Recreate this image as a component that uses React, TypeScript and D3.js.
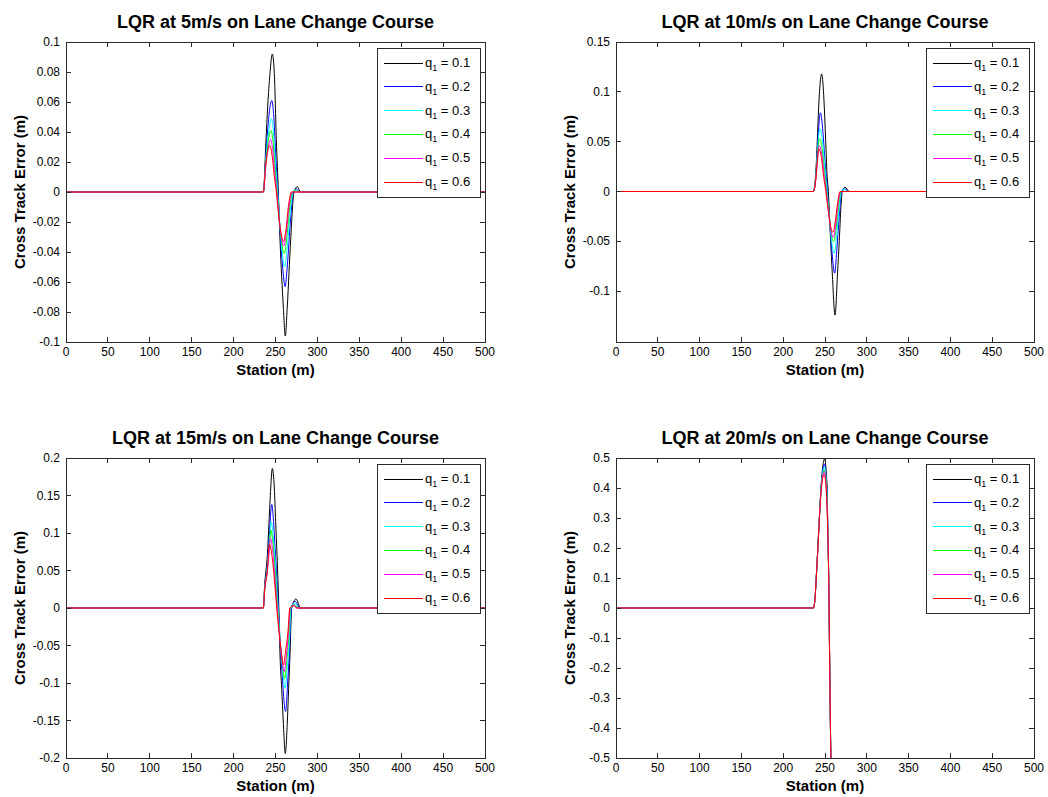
import React from 'react';
import * as d3 from 'd3';

type Pt = [number, number];

// ---------- shared ----------
const Q_LABELS = ['0.1', '0.2', '0.3', '0.4', '0.5', '0.6'];
const SERIES_COLORS = ['#000000', '#0000ff', '#00ffff', '#00ff00', '#ff00ff', '#ff0000'];
const X_TICKS = [0, 50, 100, 150, 200, 250, 300, 350, 400, 450, 500];
const X_DOMAIN: [number, number] = [0, 500];
const X_LABEL = 'Station (m)';
const Y_LABEL = 'Cross Track Error (m)';

// ---------- panel 1 : 5 m/s ----------
const P1_TITLE = 'LQR at 5m/s on Lane Change Course';
const P1_Y_DOMAIN: [number, number] = [-0.1, 0.1];
const P1_Y_TICKS = [-0.1, -0.08, -0.06, -0.04, -0.02, 0, 0.02, 0.04, 0.06, 0.08, 0.1];
const P1_Q1: Pt[] = [[0, 0], [235.5, 0], [238.7, 0.035], [240.7, 0.057], [243.4, 0.079], [246.2, 0.092], [248.6, 0.079], [251, 0.035], [253.4, 0], [255.4, -0.032], [259.3, -0.076], [261.7, -0.096], [264.1, -0.076], [268.1, -0.032], [272.1, 0], [276, 0.0035], [280, 0], [500, 0]];
const P1_Q2: Pt[] = [[0, 0], [235.5, 0], [238.5, 0.025], [240.5, 0.04], [243, 0.055], [245.5, 0.061], [248, 0.05], [250.5, 0.022], [253, 0], [255, -0.022], [258.5, -0.05], [261.5, -0.063], [264, -0.05], [268, -0.018], [271.5, 0], [275, 0.002], [279, 0], [500, 0]];
const P1_Q3: Pt[] = [[0, 0], [235.5, 0], [238.5, 0.022], [240.5, 0.034], [243, 0.045], [245, 0.049], [247.5, 0.04], [250, 0.018], [252.5, 0], [255, -0.02], [258, -0.04], [261, -0.05], [263.5, -0.04], [267.5, -0.014], [271, 0], [274.5, 0.0015], [278, 0], [500, 0]];
const P1_Q4: Pt[] = [[0, 0], [235.5, 0], [238.5, 0.02], [240.5, 0.03], [242.5, 0.038], [244.5, 0.041], [247, 0.034], [249.5, 0.015], [252, 0], [254.5, -0.018], [257.5, -0.034], [260.5, -0.041], [263, -0.033], [267, -0.01], [270.5, 0], [274, 0.001], [277, 0], [500, 0]];
const P1_Q5: Pt[] = [[0, 0], [235.5, 0], [238.5, 0.018], [240.5, 0.027], [242.5, 0.033], [244, 0.035], [246.5, 0.029], [249, 0.013], [251.5, 0], [254, -0.016], [257, -0.03], [260, -0.036], [262.5, -0.029], [266.5, -0.008], [270, 0], [276, 0], [500, 0]];
const P1_Q6: Pt[] = [[0, 0], [235.5, 0], [238, 0.016], [240, 0.025], [243, 0.031], [245.5, 0.026], [248.5, 0.011], [251, 0], [253.5, -0.014], [256.5, -0.027], [259.5, -0.033], [262, -0.027], [266, -0.007], [269, 0], [275, 0], [500, 0]];

// ---------- panel 2 : 10 m/s ----------
const P2_TITLE = 'LQR at 10m/s on Lane Change Course';
const P2_Y_DOMAIN: [number, number] = [-0.151, 0.15];
const P2_Y_TICKS = [-0.1, -0.05, 0, 0.05, 0.1, 0.15];
const P2_Q1: Pt[] = [[0, 0], [236, 0], [238.9, 0.018], [240.8, 0.051], [242.4, 0.084], [246, 0.118], [249.2, 0.084], [250.8, 0.051], [252.4, 0.018], [254, 0], [256.7, -0.049], [258.7, -0.082], [262, -0.124], [265, -0.082], [267.1, -0.049], [269, -0.016], [270.7, 0], [274, 0.0043], [279, 0], [500, 0]];
const P2_Q2: Pt[] = [[0, 0], [236, 0], [239, 0.015], [241, 0.045], [244.5, 0.079], [247.5, 0.06], [250, 0.03], [253, 0], [256, -0.035], [258.5, -0.062], [261.5, -0.082], [264, -0.06], [267, -0.025], [270, 0], [273.5, 0.003], [278, 0], [500, 0]];
const P2_Q3: Pt[] = [[0, 0], [236, 0], [239, 0.014], [241, 0.04], [244, 0.063], [247, 0.05], [250, 0.022], [252.5, 0], [255.5, -0.028], [258, -0.05], [261, -0.062], [263.5, -0.048], [266.5, -0.02], [269.5, 0], [273, 0.0025], [277, 0], [500, 0]];
const P2_Q4: Pt[] = [[0, 0], [236, 0], [239, 0.013], [241, 0.036], [243.5, 0.053], [246.5, 0.043], [249.5, 0.018], [252, 0], [255, -0.024], [257.5, -0.042], [260.5, -0.05], [263, -0.04], [266, -0.016], [269, 0], [276, 0], [500, 0]];
const P2_Q5: Pt[] = [[0, 0], [236, 0], [239, 0.012], [241, 0.033], [243, 0.046], [246, 0.038], [249, 0.016], [251.5, 0], [254.5, -0.022], [257, -0.038], [260, -0.046], [262.5, -0.036], [265.5, -0.014], [268.5, 0], [275, 0], [500, 0]];
const P2_Q6: Pt[] = [[0, 0], [236, 0], [239, 0.012], [241, 0.031], [242.5, 0.043], [245.5, 0.035], [248.5, 0.014], [251, 0], [254, -0.02], [256.5, -0.034], [259.5, -0.041], [262, -0.032], [265, -0.012], [268, 0], [274, 0], [500, 0]];

// ---------- panel 3 : 15 m/s ----------
const P3_TITLE = 'LQR at 15m/s on Lane Change Course';
const P3_Y_DOMAIN: [number, number] = [-0.2, 0.2];
const P3_Y_TICKS = [-0.2, -0.15, -0.1, -0.05, 0, 0.05, 0.1, 0.15, 0.2];
const P3_Q1: Pt[] = [[0, 0], [235.5, 0], [237, 0.03], [240.3, 0.071], [242.3, 0.115], [244.3, 0.16], [246.2, 0.186], [248.6, 0.16], [250.2, 0.115], [251.8, 0.071], [254, 0], [255.4, -0.063], [257.4, -0.107], [259.3, -0.152], [261.7, -0.194], [264.1, -0.152], [265.7, -0.107], [267.3, -0.063], [269.3, 0], [274.5, 0.012], [280, 0], [500, 0]];
const P3_Q2: Pt[] = [[0, 0], [235.5, 0], [237, 0.025], [240.3, 0.06], [242.5, 0.095], [245.5, 0.138], [248, 0.11], [250, 0.07], [253.5, 0], [255.5, -0.045], [258, -0.09], [262, -0.138], [264.5, -0.1], [266.5, -0.06], [269, 0], [273.5, 0.009], [279, 0], [500, 0]];
const P3_Q3: Pt[] = [[0, 0], [235.5, 0], [237, 0.024], [240.3, 0.055], [242.5, 0.085], [245, 0.115], [247.5, 0.092], [250, 0.055], [253, 0], [255.5, -0.04], [258, -0.075], [261.5, -0.107], [264, -0.08], [266.5, -0.045], [268.5, 0], [273, 0.007], [278, 0], [500, 0]];
const P3_Q4: Pt[] = [[0, 0], [235.5, 0], [237, 0.024], [240.3, 0.052], [242.5, 0.08], [244.5, 0.104], [247, 0.085], [249.5, 0.05], [252.5, 0], [255, -0.036], [257.5, -0.066], [261, -0.094], [263.5, -0.07], [266, -0.038], [268, 0], [272.5, 0.005], [277, 0], [500, 0]];
const P3_Q5: Pt[] = [[0, 0], [235.5, 0], [237, 0.023], [240.3, 0.05], [242.5, 0.075], [244, 0.093], [246.5, 0.078], [249, 0.045], [252, 0], [254.5, -0.033], [257, -0.06], [260.5, -0.085], [263, -0.063], [265.5, -0.033], [267.5, 0], [272, 0.004], [276, 0], [500, 0]];
const P3_Q6: Pt[] = [[0, 0], [235.5, 0], [237, 0.023], [240.3, 0.05], [242.5, 0.085], [245.5, 0.072], [248.5, 0.04], [251.5, 0], [254, -0.03], [256.5, -0.055], [259.5, -0.076], [262, -0.058], [265, -0.03], [267, 0], [271.5, 0.003], [275, 0], [500, 0]];

// ---------- panel 4 : 20 m/s ----------
const P4_TITLE = 'LQR at 20m/s on Lane Change Course';
const P4_Y_DOMAIN: [number, number] = [-0.5, 0.5];
const P4_Y_TICKS = [-0.5, -0.4, -0.3, -0.2, -0.1, 0, 0.1, 0.2, 0.3, 0.4, 0.5];
const P4_Q1: Pt[] = [[0, 0], [236, 0], [238, 0.03], [239.5, 0.1], [242, 0.232], [244, 0.343], [246, 0.432], [249.7, 0.498], [251.5, 0.45], [252.7, 0.38], [253.5, 0.243], [254.7, 0.056], [255.5, -0.157], [256.7, -0.437], [258, -0.65], [259, -0.85]];
const P4_Q2: Pt[] = [[0, 0], [236, 0], [238, 0.03], [239.5, 0.1], [242, 0.23], [244, 0.34], [246, 0.425], [249.5, 0.48], [251.3, 0.44], [252.6, 0.37], [253.5, 0.24], [254.7, 0.055], [255.5, -0.16], [256.7, -0.44], [258, -0.65], [259, -0.85]];
const P4_Q3: Pt[] = [[0, 0], [236, 0], [238, 0.03], [239.5, 0.1], [242, 0.229], [244, 0.338], [246, 0.42], [249.4, 0.47], [251.2, 0.432], [252.5, 0.365], [253.5, 0.238], [254.7, 0.054], [255.5, -0.16], [256.7, -0.44], [258, -0.65], [259, -0.85]];
const P4_Q4: Pt[] = [[0, 0], [236, 0], [238, 0.03], [239.5, 0.1], [242, 0.228], [244, 0.336], [246, 0.415], [249.3, 0.46], [251.1, 0.425], [252.4, 0.36], [253.5, 0.236], [254.7, 0.053], [255.5, -0.16], [256.7, -0.44], [258, -0.65], [259, -0.85]];
const P4_Q5: Pt[] = [[0, 0], [236, 0], [238, 0.03], [239.5, 0.1], [242, 0.227], [244, 0.334], [246, 0.412], [249.2, 0.455], [251, 0.42], [252.3, 0.355], [253.5, 0.235], [254.7, 0.052], [255.5, -0.16], [256.7, -0.44], [258, -0.65], [259, -0.85]];
const P4_Q6: Pt[] = [[0, 0], [236, 0], [238, 0.03], [239.5, 0.1], [242, 0.226], [244, 0.332], [246, 0.408], [249, 0.445], [250.9, 0.415], [252.2, 0.35], [253.5, 0.234], [254.7, 0.052], [255.5, -0.16], [256.7, -0.44], [258, -0.65], [259, -0.85]];

const FONT = '"Liberation Sans", Arial, Helvetica, sans-serif';
const AXIS_COLOR = '#2b2b2b';

interface PanelProps {
  id: string;
  left: number;
  top: number;
  width: number;
  height: number;
  title: string;
  yDomain: [number, number];
  yTicks: number[];
  series: Pt[][];
}

const fmt = (v: number) => String(+v.toFixed(4));

function Panel({ id, left, top, width, height, title, yDomain, yTicks, series }: PanelProps) {
  const x = d3.scaleLinear().domain(X_DOMAIN).range([left, left + width]);
  const y = d3.scaleLinear().domain(yDomain).range([top + height, top]);
  const line = d3
    .line<Pt>()
    .x((d) => x(d[0]))
    .y((d) => y(d[1]))
    .curve(d3.curveMonotoneX);
  const tl = 5;
  const right = left + width;
  const bottom = top + height;

  // legend geometry
  const lgW = 103;
  const lgH = 149;
  const lgX = right - 5 - lgW;
  const lgY = top + 6;
  const rowY = (i: number) => lgY + 15 + i * 23.8;

  return (
    <g>
      <defs>
        <clipPath id={id}>
          <rect x={left} y={top} width={width} height={height} />
        </clipPath>
      </defs>
      <rect x={left} y={top} width={width} height={height} fill="#ffffff" />
      <g clipPath={`url(#${id})`}>
        {series.map((s, i) => (
          <path key={i} d={line(s) || ''} fill="none" stroke={SERIES_COLORS[i]} strokeWidth={1} />
        ))}
      </g>
      {/* box */}
      <rect x={left} y={top} width={width} height={height} fill="none" stroke={AXIS_COLOR} strokeWidth={1} shapeRendering="crispEdges" />
      {/* x ticks */}
      {X_TICKS.map((t) => (
        <g key={'x' + t}>
          <line x1={x(t)} x2={x(t)} y1={bottom} y2={bottom - tl} stroke={AXIS_COLOR} shapeRendering="crispEdges" />
          <line x1={x(t)} x2={x(t)} y1={top} y2={top + tl} stroke={AXIS_COLOR} shapeRendering="crispEdges" />
          <text x={x(t)} y={bottom + 14} textAnchor="middle" fontSize={12} fontFamily={FONT} fill="#000">
            {fmt(t)}
          </text>
        </g>
      ))}
      {/* y ticks */}
      {yTicks.map((t) => (
        <g key={'y' + t}>
          <line x1={left} x2={left + tl} y1={y(t)} y2={y(t)} stroke={AXIS_COLOR} shapeRendering="crispEdges" />
          <line x1={right} x2={right - tl} y1={y(t)} y2={y(t)} stroke={AXIS_COLOR} shapeRendering="crispEdges" />
          <text x={left - 6} y={y(t) + 4} textAnchor="end" fontSize={12} fontFamily={FONT} fill="#000">
            {fmt(t)}
          </text>
        </g>
      ))}
      {/* title */}
      <text x={(left + right) / 2} y={top - 14} textAnchor="middle" fontSize={18} fontWeight="bold" fontFamily={FONT} fill="#000">
        {title}
      </text>
      {/* x label */}
      <text x={(left + right) / 2} y={bottom + 33} textAnchor="middle" fontSize={15} fontWeight="bold" fontFamily={FONT} fill="#000">
        {X_LABEL}
      </text>
      {/* y label */}
      <text
        transform={`translate(${left - 41},${(top + bottom) / 2}) rotate(-90)`}
        textAnchor="middle"
        fontSize={15}
        fontWeight="bold"
        fontFamily={FONT}
        fill="#000"
      >
        {Y_LABEL}
      </text>
      {/* legend */}
      <rect x={lgX} y={lgY} width={lgW} height={lgH} fill="#ffffff" stroke={AXIS_COLOR} strokeWidth={1} shapeRendering="crispEdges" />
      {Q_LABELS.map((q, i) => (
        <g key={'lg' + i}>
          <line x1={lgX + 7} x2={lgX + 46} y1={rowY(i)} y2={rowY(i)} stroke={SERIES_COLORS[i]} strokeWidth={1} shapeRendering="crispEdges" />
          <text x={lgX + 48} y={rowY(i) + 4} fontSize={13} fontFamily={FONT} fill="#000">
            q
            <tspan fontSize={9} dy={4}>1</tspan>
            <tspan dy={-4}>{` = ${q}`}</tspan>
          </text>
        </g>
      ))}
    </g>
  );
}

export default function App() {
  const W = 1048;
  const H = 797;
  return (
    <svg
      width={W}
      height={H}
      viewBox={`0 0 ${W} ${H}`}
      style={{ position: 'absolute', left: 0, top: 0, background: '#ffffff' }}
    >
      <rect x={0} y={0} width={W} height={H} fill="#ffffff" />
      <Panel id="c1" left={66} top={42} width={419} height={300} title={P1_TITLE} yDomain={P1_Y_DOMAIN} yTicks={P1_Y_TICKS} series={[P1_Q1, P1_Q2, P1_Q3, P1_Q4, P1_Q5, P1_Q6]} />
      <Panel id="c2" left={616} top={42} width={418} height={300} title={P2_TITLE} yDomain={P2_Y_DOMAIN} yTicks={P2_Y_TICKS} series={[P2_Q1, P2_Q2, P2_Q3, P2_Q4, P2_Q5, P2_Q6]} />
      <Panel id="c3" left={66} top={458} width={419} height={300} title={P3_TITLE} yDomain={P3_Y_DOMAIN} yTicks={P3_Y_TICKS} series={[P3_Q1, P3_Q2, P3_Q3, P3_Q4, P3_Q5, P3_Q6]} />
      <Panel id="c4" left={616} top={458} width={418} height={300} title={P4_TITLE} yDomain={P4_Y_DOMAIN} yTicks={P4_Y_TICKS} series={[P4_Q1, P4_Q2, P4_Q3, P4_Q4, P4_Q5, P4_Q6]} />
    </svg>
  );
}
